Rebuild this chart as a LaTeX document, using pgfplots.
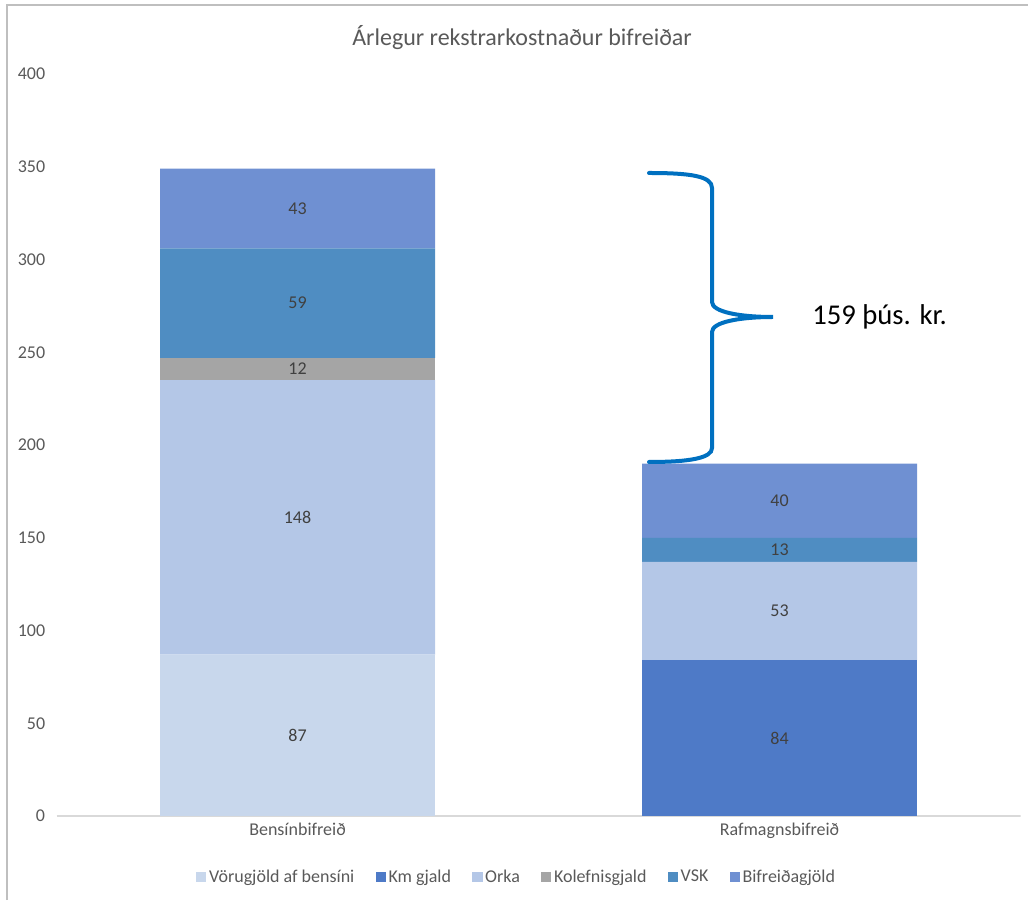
\documentclass[border=0pt]{standalone}
\usepackage{fontspec}
\setmainfont{Carlito}
\usepackage{pgfplots}
\usepackage{pgfplotstable}
\pgfplotsset{compat=1.18}

\definecolor{cVor}{RGB}{200,215,236}
\definecolor{cKm}{RGB}{78,122,199}
\definecolor{cOrka}{RGB}{180,199,231}
\definecolor{cKol}{RGB}{165,165,165}
\definecolor{cVsk}{RGB}{79,141,194}
\definecolor{cBif}{RGB}{111,144,210}
\definecolor{txt}{RGB}{89,89,89}
\definecolor{lbl}{RGB}{64,64,64}
\definecolor{brace}{RGB}{0,112,192}

% one row per bar: Bensinbifreid, Rafmagnsbifreid
\pgfplotstableread{
x vor km  orka kol vsk bif
0 87  0   148  12  59  43
1 0   84  53   0   13  40
}\kostn

\begin{document}
\begin{tikzpicture}
\useasboundingbox (0,0) rectangle (771pt,675pt);
% chart frame (left and top edge visible)
\draw[black!25, line width=1.5pt] (5.25pt,0) -- (5.25pt,671.25pt) -- (771pt,671.25pt);
\begin{axis}[
    at={(42.375pt,63pt)}, anchor=south west,
    scale only axis,
    width=723pt, height=556.5pt,
    ybar stacked,
    bar width=206.25pt,
    xmin=-0.5, xmax=1.5,
    ymin=0, ymax=400,
    ytick distance=50,
    xtick={0,1},
    xticklabels={Bensínbifreið, Rafmagnsbifreið},
    major tick length=0pt,
    axis line style={draw=none},
    tick label style={font=\fontsize{13.5}{16}\selectfont, text=txt},
    yticklabel style={xshift=-5pt, /pgf/number format/assume math mode=true},
    xticklabel style={yshift=-2pt},
    nodes near coords={\ifdim\val pt>0pt \pgfmathprintnumber{\val}\fi},
    every node near coord/.append style={anchor=center,
        font=\fontsize{13.5}{16}\selectfont, text=lbl,
        /pgf/number format/assume math mode=true},
    legend columns=6,
    legend style={draw=none, fill=none, at={(0.4777,-0.0822)}, anchor=center,
        font=\fontsize{13.5}{16}\selectfont, text=txt,
        /tikz/every even column/.append style={column sep=14pt}},
    legend image code/.code={\fill[#1] (0pt,-3.8pt) rectangle (7.6pt,3.8pt);},
]
\addplot[fill=cVor, draw=none, visualization depends on={\thisrow{vor} \as \val}] table[x=x, y=vor] {\kostn};
\addlegendentry{Vörugjöld af bensíni}
\addplot[fill=cKm, draw=none, visualization depends on={\thisrow{km} \as \val}] table[x=x, y=km] {\kostn};
\addlegendentry{Km gjald}
\addplot[fill=cOrka, draw=none, visualization depends on={\thisrow{orka} \as \val}] table[x=x, y=orka] {\kostn};
\addlegendentry{Orka}
\addplot[fill=cKol, draw=none, visualization depends on={\thisrow{kol} \as \val}] table[x=x, y=kol] {\kostn};
\addlegendentry{Kolefnisgjald}
\addplot[fill=cVsk, draw=none, visualization depends on={\thisrow{vsk} \as \val}] table[x=x, y=vsk] {\kostn};
\addlegendentry{VSK}
\addplot[fill=cBif, draw=none, visualization depends on={\thisrow{bif} \as \val}] table[x=x, y=bif] {\kostn};
\addlegendentry{Bifreiðagjöld}
\draw[black!15, line width=1pt] (axis cs:-0.5,0) -- (axis cs:1.5,0);
\end{axis}
% annotations, in pixel units of the 1028x900 reference
\begin{scope}[shift={(0,675pt)}, x=0.75pt, y=-0.75pt]
\node[text=txt, font=\fontsize{18}{21}\selectfont] at (522,38) {Árlegur rekstrarkostnaður bifreiðar};
\draw[brace, line width=3pt, line cap=round]
  (649,173) .. controls (690,173) and (712,176) .. (712,188) -- (712,302)
  .. controls (712,312) and (740,317) .. (773,317)
  .. controls (740,317) and (712,322) .. (712,332) -- (712,448)
  .. controls (712,458) and (690,462) .. (649,462);
\node[anchor=west, font=\fontsize{21.5}{25}\selectfont, inner sep=0pt] at (812,317) {159 þús. kr.};
\end{scope}
\end{tikzpicture}
\end{document}
